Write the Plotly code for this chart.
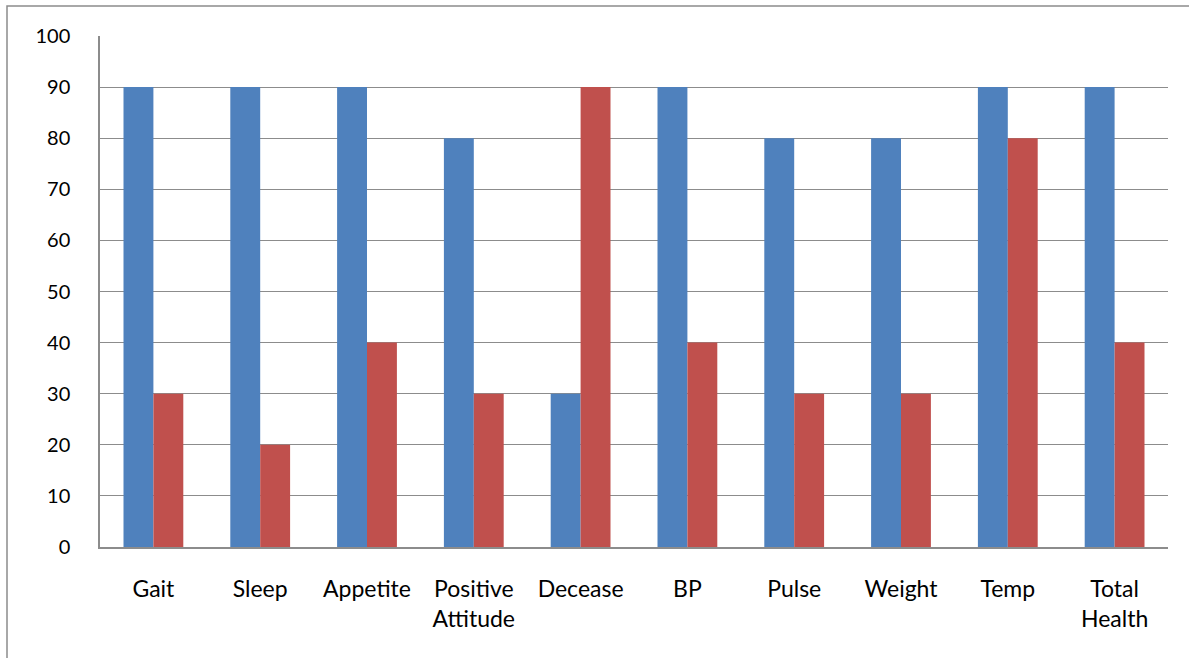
import plotly.graph_objects as go

categories = ["Gait", "Sleep", "Appetite", "Positive<br>Attitude", "Decease", "BP",
              "Pulse", "Weight", "Temp", "Total<br>Health"]
series_a = [90, 90, 90, 80, 30, 90, 80, 80, 90, 90]
series_b = [30, 20, 40, 30, 90, 40, 30, 30, 80, 40]
y_ticks = [0, 10, 20, 30, 40, 50, 60, 70, 80, 90, 100]

fig = go.Figure()
fig.add_trace(go.Bar(x=categories, y=series_a, marker=dict(color="#4F81BD", line_width=0), name="A"))
fig.add_trace(go.Bar(x=categories, y=series_b, marker=dict(color="#C0504D", line_width=0), name="B"))

L, R, T, B = 100, 21, 36, 111
W, H = 1189, 658
pw, ph = W - L - R, H - T - B

fig.update_layout(
    width=W, height=H,
    margin=dict(l=L, r=R, t=T, b=B, pad=0),
    barmode="group", bargap=0.44, bargroupgap=0,
    showlegend=False,
    plot_bgcolor="white", paper_bgcolor="white",
    font=dict(family="Lato, Open Sans, sans-serif", size=20, color="#000000"),
    xaxis=dict(showline=True, linecolor="#8C8C8C", linewidth=1.5, ticks="", showgrid=False,
               ticklabelstandoff=21, tickfont=dict(size=23)),
    yaxis=dict(range=[0, 100], tickvals=y_ticks, showline=True, linecolor="#8C8C8C", linewidth=1.5,
               showgrid=True, gridcolor="#8C8C8C", gridwidth=1, ticks="", zeroline=False,
               ticklabelstandoff=24, tickfont=dict(size=20)),
    shapes=[dict(type="rect", xref="paper", yref="paper",
                 x0=(7 - L) / pw, x1=(W + 20 - L) / pw,
                 y0=-(H + 20 - T - ph) / ph, y1=(H - B - 6) / ph,
                 line=dict(color="#8C8C8C", width=1.5), fillcolor="rgba(0,0,0,0)", layer="below")],
)

fig.write_html("out.html", config={"displayModeBar": False},
               post_script="document.body.style.margin='0px';")
